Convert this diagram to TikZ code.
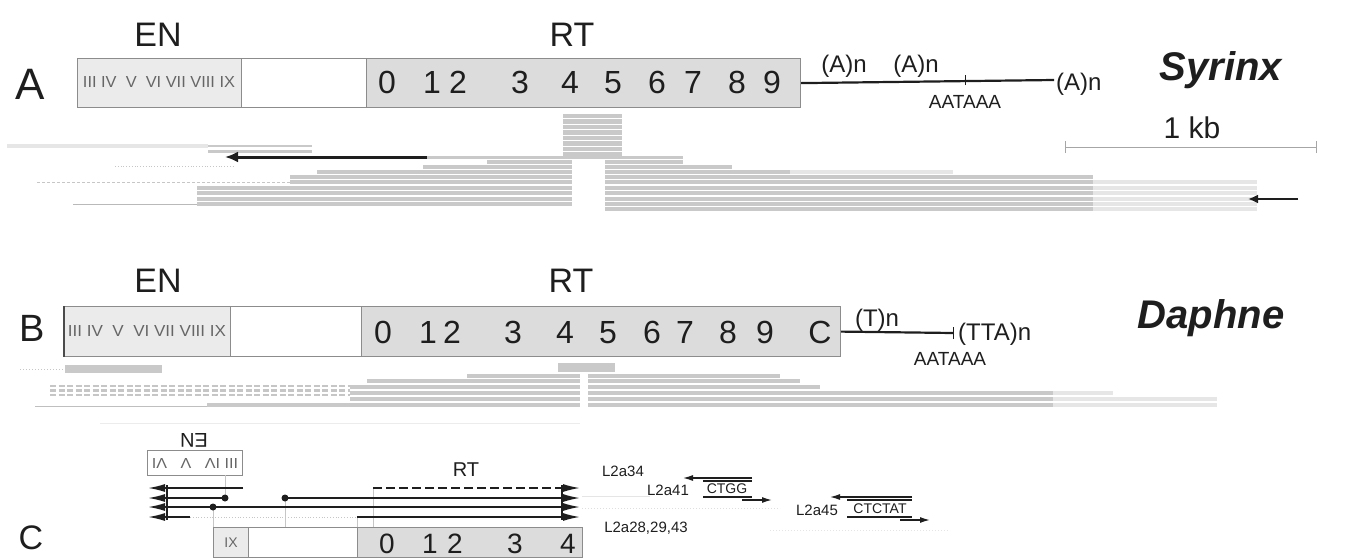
\documentclass[tikz,border=0pt]{standalone}
\usepackage{fontspec}
\setmainfont{Liberation Sans}
\usetikzlibrary{arrows.meta}
\newcommand\myfs[1]{\fontsize{#1}{#1}\selectfont}
\definecolor{enfill}{HTML}{EBEBEB}
\definecolor{rtfill}{HTML}{DCDCDC}
\definecolor{boxline}{HTML}{8C8C8C}
\definecolor{readc}{HTML}{C9C9C9}
\definecolor{readl}{HTML}{E6E6E6}
\definecolor{ink}{HTML}{1E1E1E}
\newcommand\rr[3]{\fill[readc] (#2,#1-2.3) rectangle (#3,#1+2.3);}
\newcommand\rl[3]{\fill[readl] (#2,#1-2.3) rectangle (#3,#1+2.3);}
\begin{document}
\begin{tikzpicture}[x=1pt,y=-1pt,
  seg/.style={draw=boxline, line width=1.2pt, inner sep=0pt, anchor=north west},
  dig/.style={font=\myfs{32}, inner sep=0pt, anchor=base, text=ink},
  digc/.style={font=\myfs{28}, inner sep=0pt, anchor=base, text=ink},
  biglbl/.style={font=\myfs{34}, inner sep=0pt, text=ink},
  panel/.style={font=\myfs{42}, inner sep=0pt, text=ink},
  species/.style={font=\myfs{40}\bfseries\itshape, inner sep=0pt, anchor=base, text=ink},
  poly/.style={font=\myfs{24}, inner sep=0pt, text=ink},
  sig/.style={font=\myfs{19}, inner sep=0pt, anchor=base, text=ink},
  small/.style={font=\myfs{15}, inner sep=0pt, text=ink},
  tail/.style={draw=ink, line width=2.2pt},
  bigarrow/.style={draw=ink, line width=3pt, -{Latex[length=13pt,width=11pt]}},
  carrow/.style={draw=ink, line width=1.6pt, -{Latex[length=17pt,width=8pt]}},
  thin/.style={draw=ink, line width=1.2pt},
  guide/.style={draw=gray!45, line width=0.6pt}
]
\useasboundingbox (0,0) rectangle (1352,557);

% ================= Panel A =================
\node[panel, font=\myfs{44}] (labA) at (30,84) {A};
\node[biglbl] (enlA) at (158,35) {EN};
\node[biglbl] (rtlA) at (572,35) {RT};
\node[seg, fill=enfill, minimum width=164pt, minimum height=49pt] (enA) at (77,58) {};
\node[seg, fill=white, minimum width=125pt, minimum height=49pt] (wA) at (241,58) {};
\node[seg, fill=rtfill, minimum width=434pt, minimum height=49pt] (rtA) at (366,58) {};
\node[inner sep=0pt, text=gray!80!black] (romA) at (159,82) {\resizebox{152pt}{11pt}{III IV\ \ V\ \ VI VII VIII IX}};
\foreach \d/\x in {0/387,1/432,2/458,3/520,4/570,5/613,6/657,7/693,8/737,9/772}
  \node[dig] at (\x,93) {\d};
\coordinate (tA1) at (1054,80);
\draw[tail] (rtA.east) -- (tA1);
\coordinate (tkA) at (965,80);
\draw[draw=ink, line width=0.8pt] ([yshift=-5pt]tkA) -- ([yshift=5pt]tkA);
\node[poly, anchor=base] (pa1) at (844,72) {(A)n};
\node[poly, anchor=base] (pa2) at (916,72) {(A)n};
\node[poly, anchor=base west] (pa3) at (1056,90) {(A)n};
\node[sig] (sigA) at (965,108) {AATAAA};
\node[species] (syr) at (1221,80) {Syrinx};
\node[font=\myfs{30}, inner sep=0pt, anchor=base, text=ink] (kb) at (1192,138) {1 kb};
\coordinate (sb1) at (1065,147);
\coordinate (sb2) at (1316,147);
\draw[draw=gray!70, line width=1pt] (sb1) -- (sb2);
\draw[draw=gray!70, line width=1pt] ([yshift=-6pt]sb1) -- ([yshift=6pt]sb1);
\draw[draw=gray!70, line width=1pt] ([yshift=-6pt]sb2) -- ([yshift=6pt]sb2);

% reads A
\foreach \y in {116,121.5,127,132.5,138,143.5,149,154.5} {\rr{\y}{563}{622}}
\rl{146}{7}{208}
\fill[readc] (208,144.5) rectangle (312,147.3);
\fill[readc] (208,149.8) rectangle (312,152.6);
\fill[readc] (427,156) rectangle (683,158.5);
\draw[gray!45, line width=0.8pt, dotted] (115,166) -- (233,166);
\draw[gray!45, line width=0.8pt, densely dashed] (37,182) -- (290,182);
\draw[gray!55, line width=0.8pt] (73,204) -- (197,204);
\rr{162}{487}{572} \rr{162}{605}{683}
\rr{167}{423}{572} \rr{167}{605}{732}
\rr{172}{317}{572} \rr{172}{605}{790} \rl{172}{790}{953}
\rr{177}{290}{572} \rr{177}{605}{1093}
\rr{182}{290}{572} \rr{182}{605}{1093} \rl{182}{1093}{1257}
\rr{188}{197}{572} \rr{188}{605}{1093} \rl{188}{1093}{1257}
\rr{193}{197}{572} \rr{193}{605}{1093} \rl{193}{1093}{1257}
\rr{199}{197}{572} \rr{199}{605}{1093} \rl{199}{1093}{1257}
\rr{204}{197}{572} \rr{204}{605}{1093} \rl{204}{1093}{1257}
\rr{209}{605}{1093} \rl{209}{1093}{1257}
\coordinate (arA1) at (427,157);
\coordinate (arA2) at (225,157);
\draw[bigarrow] (arA1) -- (arA2);
\coordinate (arA3) at (1298,199);
\coordinate (arA4) at (1248,199);
\draw[draw=ink, line width=2.2pt, -{Latex[length=10pt,width=9pt]}] (arA3) -- (arA4);

% ================= Panel B =================
\node[panel, font=\myfs{38}] (labB) at (32,328) {B};
\node[biglbl] (enlB) at (158,281) {EN};
\node[biglbl] (rtlB) at (571,281) {RT};
\node[seg, fill=enfill, minimum width=166pt, minimum height=50pt] (enB) at (64,306) {};
\node[seg, fill=white, minimum width=131pt, minimum height=50pt] (wB) at (230,306) {};
\node[seg, fill=rtfill, minimum width=479pt, minimum height=50pt] (rtB) at (361,306) {};
\draw[draw=ink!80, line width=1.2pt] (enB.north west) -- (enB.south west);
\node[inner sep=0pt, text=gray!80!black] (romB) at (147,331) {\resizebox{158pt}{11pt}{III IV\ \ V\ \ VI VII VIII IX}};
\foreach \d/\x in {0/383,1/428,2/452,3/513,4/565,5/608,6/652,7/685,8/728,9/765,C/820}
  \node[dig] at (\x,343) {\d};
\coordinate (tB1) at (953,333);
\draw[tail] (rtB.east) -- (tB1);
\draw[draw=ink, line width=0.8pt] ([yshift=-6pt]tB1) -- ([yshift=6pt]tB1);
\node[poly, anchor=base] (pt) at (877,326) {(T)n};
\node[poly, anchor=base west] (ptta) at (958,340) {(TTA)n};
\node[sig] (sigB) at (950,365) {AATAAA};
\node[species] (daph) at (1211,328) {Daphne};

% reads B
\draw[gray!45, line width=1pt, dotted] (20,369) -- (65,369);
\fill[readc] (65,365) rectangle (162,373);
\fill[readc] (558,363) rectangle (615,372);
\rr{376}{467}{580} \rr{376}{588}{780}
\rr{381}{367}{580} \rr{381}{588}{800}
\rr{387}{350}{580} \rr{387}{588}{820}
\rr{393}{350}{580} \rr{393}{588}{1053} \rl{393}{1053}{1113}
\rr{399}{350}{580} \rr{399}{588}{1053} \rl{399}{1053}{1217}
\rr{405}{207}{580} \rr{405}{588}{1053} \rl{405}{1053}{1217}
\foreach \y in {386,390.5,395} \draw[gray!45, line width=2.5pt, dash pattern=on 6pt off 2.5pt] (50,\y) -- (350,\y);
\draw[gray!50, line width=0.8pt] (35,406) -- (207,406);

% ================= Panel C =================
\node[panel, font=\myfs{34}] (labC) at (31,538) {C};
\node[font=\myfs{20}, inner sep=0pt, rotate=180, text=ink] (enlC) at (194,440) {EN};
\node[draw=boxline, line width=1pt, fill=white, minimum width=95pt, minimum height=25pt, inner sep=0pt, anchor=north west] (enC) at (147,450) {};
\node[inner sep=0pt, rotate=180, text=gray!80!black] (romC) at (195,463) {\resizebox{86pt}{10pt}{III IV\ \ \ V\ \ \ VI}};
\node[font=\myfs{20}, inner sep=0pt, text=ink] (rtlC) at (466,470) {RT};

% guides
\draw[guide] (213,507) -- (213,527);
\draw[guide] (225,475) -- (225,498);
\draw[guide] (285,498) -- (285,527);
\draw[guide] (357,517) -- (357,527);
\draw[guide] (373,488) -- (373,527);
\draw[gray!15, line width=0.8pt] (100,423) -- (580,423);

% bottom box
\node[seg, fill=enfill, minimum width=35pt, minimum height=30pt] (ixC) at (213,527) {};
\node[seg, fill=white, minimum width=109pt, minimum height=30pt] (wC) at (248,527) {};
\node[seg, fill=rtfill, minimum width=225pt, minimum height=30pt] (rtC) at (357,527) {};
\node[inner sep=0pt, text=gray!80!black, font=\myfs{14}] at (ixC.center) {IX};
\foreach \d/\x in {0/387,1/430,2/455,3/515,4/568}
  \node[digc] at (\x,553) {\d};

% left-going arrows
\coordinate (la1) at (148,488); \coordinate (ra1) at (243,488);
\coordinate (la2) at (148,498); \coordinate (d2) at (225,498);
\coordinate (la3) at (148,507); \coordinate (d3) at (213,507);
\coordinate (la4) at (148,517); \coordinate (ra4) at (190,517);
\draw[carrow] (ra1) -- (la1);
\draw[carrow] (d2) -- (la2);
\draw[carrow] (d3) -- (la3);
\draw[carrow] (ra4) -- (la4);
\draw[draw=ink, line width=2pt] (167,485) -- (167,520);
\fill[ink] (d2) circle (3.5pt);
\fill[ink] (d3) circle (3.5pt);
% right-going arrows
\coordinate (d5) at (285,498);
\coordinate (s1) at (373,488); \coordinate (e1) at (580,488);
\coordinate (e2) at (580,498);
\coordinate (e3) at (580,507);
\coordinate (s4) at (357,517); \coordinate (e4) at (580,517);
\draw[draw=ink, line width=1.6pt, dash pattern=on 9pt off 4pt] (s1) -- (563,488);
\draw[carrow, -{Latex[length=17pt,width=8pt]}] (563,488) -- (e1);
\draw[carrow] (d5) -- (e2);
\draw[carrow] (d3) -- (e3);
\draw[carrow] (s4) -- (e4);
\draw[gray!45, line width=0.8pt, dotted] (ra4) -- (s4);
\draw[draw=ink, line width=2pt] (562,485) -- (562,520);
\fill[ink] (d5) circle (3.5pt);

% right labels
\draw[gray!20, line width=1pt] (582,496) -- (650,496);
\draw[gray!25, line width=1pt, dotted] (582,508) -- (780,508);
\draw[gray!20, line width=1pt, dotted] (770,530) -- (950,530);
\node[small] (l34) at (623,471) {L2a34};
\node[small] (l41) at (668,490) {L2a41};
\node[small, font=\myfs{14}] (ctgg) at (727,489) {CTGG};
\coordinate (c1a) at (752,478); \coordinate (c1b) at (683,478);
\draw[draw=ink, line width=1.2pt, -{Latex[length=10pt,width=6pt]}] (c1a) -- (c1b);
\draw[thin] (703,481) -- (752,481);
\draw[thin] (703,497) -- (752,497);
\coordinate (c2a) at (742,500); \coordinate (c2b) at (772,500);
\draw[draw=ink, line width=1.4pt, -{Latex[length=10pt,width=6pt]}] (c2a) -- (c2b);
\node[small] (l45) at (817,510) {L2a45};
\node[small, font=\myfs{14}] (ctctat) at (880,509) {CTCTAT};
\coordinate (c3a) at (912,497); \coordinate (c3b) at (830,497);
\draw[draw=ink, line width=1.2pt, -{Latex[length=10pt,width=6pt]}] (c3a) -- (c3b);
\draw[thin] (847,500) -- (912,500);
\draw[thin] (847,517) -- (912,517);
\coordinate (c4a) at (900,520); \coordinate (c4b) at (930,520);
\draw[draw=ink, line width=1.4pt, -{Latex[length=10pt,width=6pt]}] (c4a) -- (c4b);
\node[small] (l28) at (646,528) {L2a28,29,43};
\end{tikzpicture}
\end{document}
